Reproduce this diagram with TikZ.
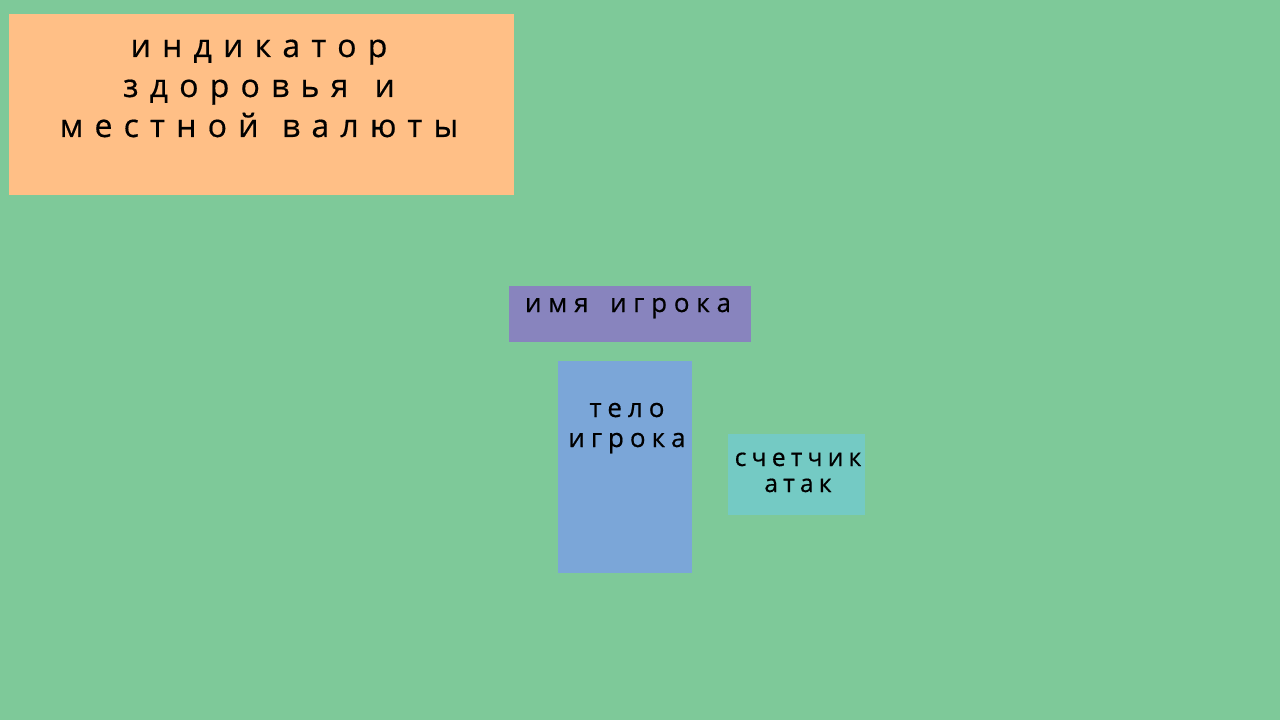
\documentclass[tikz,border=0pt]{standalone}
\usepackage{fontspec}
\usetikzlibrary{positioning}
\newfontfamily\hudfont[LetterSpace=35,FakeBold=0.5]{Open Sans}
\newfontfamily\tagfont[LetterSpace=26,FakeBold=0.5]{Open Sans}
\newfontfamily\bodyfont[LetterSpace=23,FakeBold=0.5]{Open Sans}
\newfontfamily\atkfont[LetterSpace=21,FakeBold=0.5]{Open Sans}
\newcommand{\wordgap}[1]{\hspace{#1}}
\definecolor{bgGreen}{HTML}{7EC999}
\definecolor{hudOrange}{HTML}{FFBF86}
\definecolor{namePurple}{HTML}{8884BE}
\definecolor{bodyBlue}{HTML}{7BA6D8}
\definecolor{atkTeal}{HTML}{74CAC4}
\tikzset{zone/.style={rectangle,inner sep=0pt,anchor=north west}}
\tikzset{caption/.style={inner sep=0pt,align=center,text=black,anchor=base}}

\begin{document}
\begin{tikzpicture}[x=0.75pt,y=-0.75pt]
% \draw[help lines] (0,0) grid (1280,720);
\useasboundingbox (0,0) rectangle (1280,720);
\fill[bgGreen] (0,0) rectangle (1280,720);
\node (hud) [zone,fill=hudOrange,minimum width=378.75pt,minimum height=135.75pt] at (9,14) {};
\node (name) [zone,fill=namePurple,minimum width=181.5pt,minimum height=42pt] at (509,286) {};
\node (body) [zone,fill=bodyBlue,minimum width=100.5pt,minimum height=159pt] at (558,361) {};
\node (atk) [zone,fill=atkTeal,minimum width=102.75pt,minimum height=60.75pt] at (728,434) {};
%
\node (hudText) [caption,font=\hudfont\fontsize{24}{30}\selectfont] at (259,137) {индикатор\\здоровья\wordgap{5pt} и\\местной\wordgap{3pt} валюты};
\node (nameText) [caption,font=\tagfont\fontsize{19.5}{22.5}\selectfont] at (628,312) {имя\wordgap{6pt} игрока};
\node (bodyText) [caption,font=\bodyfont\fontsize{19.5}{22.5}\selectfont] at (627,447) {тело\\игрока};
\node (atkText) [caption,font=\atkfont\fontsize{18.5}{19.5}\selectfont] at (798,492) {счетчик\\атак};
\end{tikzpicture}
\end{document}
